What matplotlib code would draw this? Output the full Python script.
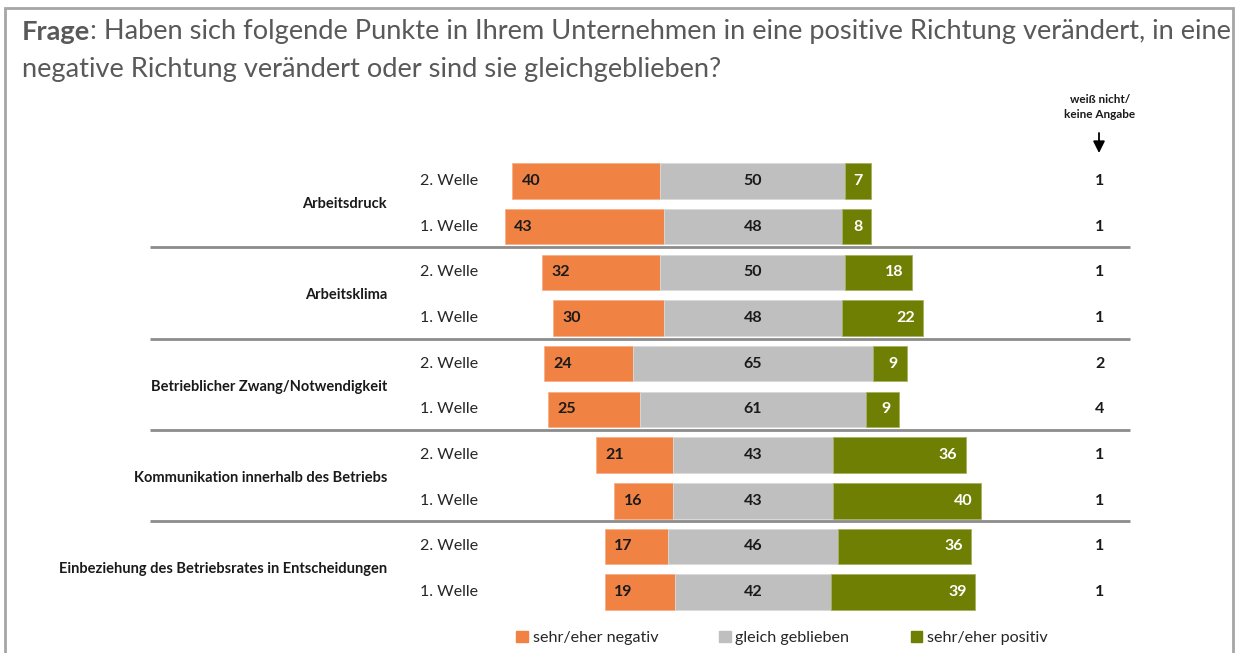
import matplotlib
matplotlib.use('Agg')
import matplotlib.pyplot as plt
from matplotlib.patches import Rectangle, Patch

# data
items = ['Arbeitsdruck', 'Arbeitsklima', 'Betrieblicher Zwang/Notwendigkeit',
         'Kommunikation innerhalb des Betriebs',
         'Einbeziehung des Betriebsrates in Entscheidungen']
waves = ['2. Welle', '1. Welle']
negativ = [40, 43, 32, 30, 24, 25, 21, 16, 17, 19]
gleich = [50, 48, 50, 48, 65, 61, 43, 43, 46, 42]
positiv = [7, 8, 18, 22, 9, 9, 36, 40, 36, 39]
weiss_nicht = [1, 1, 1, 1, 2, 4, 1, 1, 1, 1]
series_names = ['sehr/eher negativ', 'gleich geblieben', 'sehr/eher positiv']

c_neg = '#F08244'
c_mid = '#BFBFBF'
c_pos = '#6E7F03'

plt.rcParams['font.family'] = ['Lato', 'DejaVu Sans']

W, H = 1237, 653
PX_UNIT = 3.7      # pixels per percent
X0 = 753           # pixel of bar centre
ROW = 45.67        # pixels per row
Y0 = 181           # pixel of first row


def X(px):
    return (px - X0) / PX_UNIT


def Y(py):
    return (py - Y0) / ROW


fig = plt.figure(figsize=(W / 100, H / 100), dpi=100)
ax = fig.add_axes([0, 0, 1, 1])
ax.set_xlim(X(0), X(W))
ax.set_ylim(Y(H), Y(0))
ax.axis('off')

# outer frame
fig.patches.append(Rectangle((5 / W, -0.05), 1228 / W, 1.05 - 8 / H, transform=fig.transFigure,
                             fill=False, edgecolor='#A6A6A6', lw=2))

# title
renderer = fig.canvas.get_renderer()
t1 = fig.text(22 / W, 1 - 32 / H, 'Frage', fontsize=19.6, fontweight='bold', color='#595959',
              va='center', ha='left')
bb = t1.get_window_extent(renderer)
fig.text(bb.x1 / W, 1 - 32 / H, ': Haben sich folgende Punkte in Ihrem Unternehmen in eine positive Richtung verändert, in eine',
         fontsize=19.6, color='#595959', va='center', ha='left')
fig.text(22 / W, 1 - 70 / H, 'negative Richtung verändert oder sind sie gleichgeblieben?',
         fontsize=19.6, color='#595959', va='center', ha='left')

rows = list(range(len(negativ)))
left_neg = [-g / 2 - n for g, n in zip(gleich, negativ)]
left_mid = [-g / 2 for g in gleich]
left_pos = [g / 2 for g in gleich]

bh = 0.78
ax.barh(rows, negativ, left=left_neg, height=bh, color=c_neg, edgecolor='#F6B08A', lw=0.6)
ax.barh(rows, gleich, left=left_mid, height=bh, color=c_mid, edgecolor='#DADADA', lw=0.6)
ax.barh(rows, positiv, left=left_pos, height=bh, color=c_pos, edgecolor='#A8B060', lw=0.6)

for r in rows:
    ax.text(left_neg[r] + 2.5, r, str(negativ[r]), ha='left', va='center',
            fontsize=11.5, fontweight='bold', color='#1a1a1a')
    ax.text(0, r, str(gleich[r]), ha='center', va='center',
            fontsize=11.5, fontweight='bold', color='#1a1a1a')
    ax.text(left_pos[r] + positiv[r] - 2.3, r, str(positiv[r]), ha='right', va='center',
            fontsize=11.5, fontweight='bold', color='white')
    ax.text(X(1100), r, str(weiss_nicht[r]), ha='center', va='center',
            fontsize=11.5, fontweight='bold', color='#1a1a1a')
    ax.text(X(420), r, waves[r % 2], ha='left', va='center', fontsize=11.5, color='#262626')

for i, name in enumerate(items):
    ax.text(X(387), 2 * i + 0.5, name, ha='right', va='center', fontsize=10.5,
            fontweight='bold', color='#1a1a1a')

ax.hlines([1.45, 3.45, 5.45, 7.45], X(150), X(1130), color='#8C8C8C', lw=2)

# weiß nicht header
ax.text(X(1100), Y(100), 'weiß nicht/', ha='center', va='center', fontsize=8.5,
        fontweight='bold', color='#1a1a1a')
ax.text(X(1100), Y(115), 'keine Angabe', ha='center', va='center', fontsize=8.5,
        fontweight='bold', color='#1a1a1a')
ax.annotate('', xy=(X(1099), Y(153)), xytext=(X(1099), Y(133)),
            arrowprops=dict(arrowstyle='-|>,head_length=0.5,head_width=0.25', color='black',
                            lw=1.3, mutation_scale=14, shrinkA=0, shrinkB=0))

handles = [Patch(color=c) for c in (c_neg, c_mid, c_pos)]
fig.legend(handles, series_names, loc='center', bbox_to_anchor=(782 / W, 1 - 638 / H),
           ncol=3, frameon=False, fontsize=11.6, handlelength=0.7, handleheight=0.7,
           handletextpad=0.3, columnspacing=3.8, labelcolor='#262626')

fig.savefig('out.png', dpi=100)
